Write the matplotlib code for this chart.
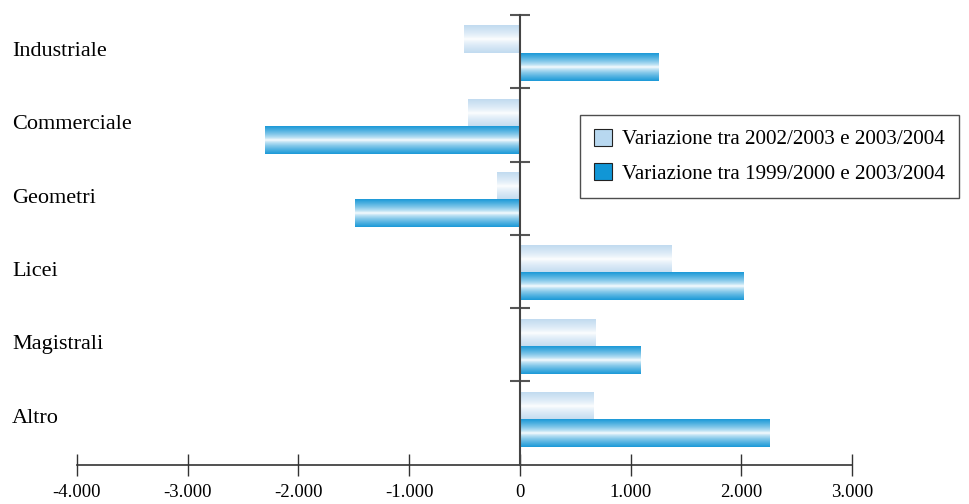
import numpy as np
import matplotlib.pyplot as plt
from matplotlib.colors import LinearSegmentedColormap
from matplotlib.patches import Patch
import matplotlib.transforms as mtransforms

plt.rcParams['font.family'] = ['Liberation Serif', 'DejaVu Serif']

# data
categorie = ['Industriale', 'Commerciale', 'Geometri', 'Licei', 'Magistrali', 'Altro']
var_0203 = [-500, -470, -210, 1370, 680, 660]
var_9900 = [1255, -2300, -1490, 2020, 1090, 2250]
serie_labels = ['Variazione tra 2002/2003 e 2003/2004', 'Variazione tra 1999/2000 e 2003/2004']
xticks = [-4000, -3000, -2000, -1000, 0, 1000, 2000, 3000]
xtick_labels = ['-4.000', '-3.000', '-2.000', '-1.000', '0', '1.000', '2.000', '3.000']

light_edge = '#c2dbf0'
dark_edge = '#1d9ad8'

fig = plt.figure(figsize=(9.7, 5.04), dpi=100)
ax = fig.add_axes([77/970, 1-465/504, (852-77)/970, 450/504])

# gradient profile across bar height
t = np.abs(np.linspace(-1, 1, 64)) ** 0.7
grad = t.reshape(-1, 1)
cm_light = LinearSegmentedColormap.from_list('l', ['#ffffff', light_edge])
cm_dark = LinearSegmentedColormap.from_list('d', ['#ffffff', dark_edge])

h = 0.37
off = 0.025
for i, cat in enumerate(categorie):
    v1 = var_0203[i]
    v2 = var_9900[i]
    y1 = i - h + off
    y2 = i + off
    ax.imshow(grad, cmap=cm_light, vmin=0, vmax=1, aspect='auto', interpolation='bilinear',
              extent=(min(0, v1), max(0, v1), y1 + h, y1), zorder=2)
    ax.imshow(grad, cmap=cm_dark, vmin=0, vmax=1, aspect='auto', interpolation='bilinear',
              extent=(min(0, v2), max(0, v2), y2 + h, y2), zorder=2)

ax.set_xlim(-4000, 3000)
ax.set_ylim(5.64, -0.5)

for s in ['top', 'right']:
    ax.spines[s].set_visible(False)
ax.spines['left'].set_position(('data', 0))
ax.spines['left'].set_color('#444444')
ax.spines['left'].set_linewidth(1.5)
ax.spines['left'].set_zorder(3)
ax.spines['bottom'].set_color('#333333')
ax.spines['bottom'].set_linewidth(1.2)

ax.set_yticks([-0.5, 0.5, 1.5, 2.5, 3.5, 4.5])
ax.set_yticklabels([])
ax.tick_params(axis='y', direction='inout', length=14, width=1.5, color='#555555')
ax.set_xticks(xticks)
ax.set_xticklabels(xtick_labels, fontsize=13.5)
ax.tick_params(axis='x', direction='inout', length=16, width=1.0, color='#333333', pad=6)

trans = mtransforms.blended_transform_factory(fig.transFigure, ax.transData)
for i, cat in enumerate(categorie):
    ax.text(12/970, i + 0.0, cat, transform=trans, ha='left', va='center', fontsize=16)

handles = [Patch(facecolor='#b8d8f0', edgecolor='#222222', linewidth=0.8),
           Patch(facecolor='#1196d6', edgecolor='#222222', linewidth=0.8)]
leg = fig.legend(handles, serie_labels, loc='upper left', bbox_to_anchor=(580/970, 1-115/504),
                 fontsize=15.2, frameon=True, fancybox=False, handlelength=0.85, handleheight=0.85,
                 handletextpad=0.5, borderpad=0.65, labelspacing=0.65, borderaxespad=0)
leg.get_frame().set_edgecolor('#222222')
leg.get_frame().set_linewidth(1.0)

fig.savefig('out.png', dpi=100)
